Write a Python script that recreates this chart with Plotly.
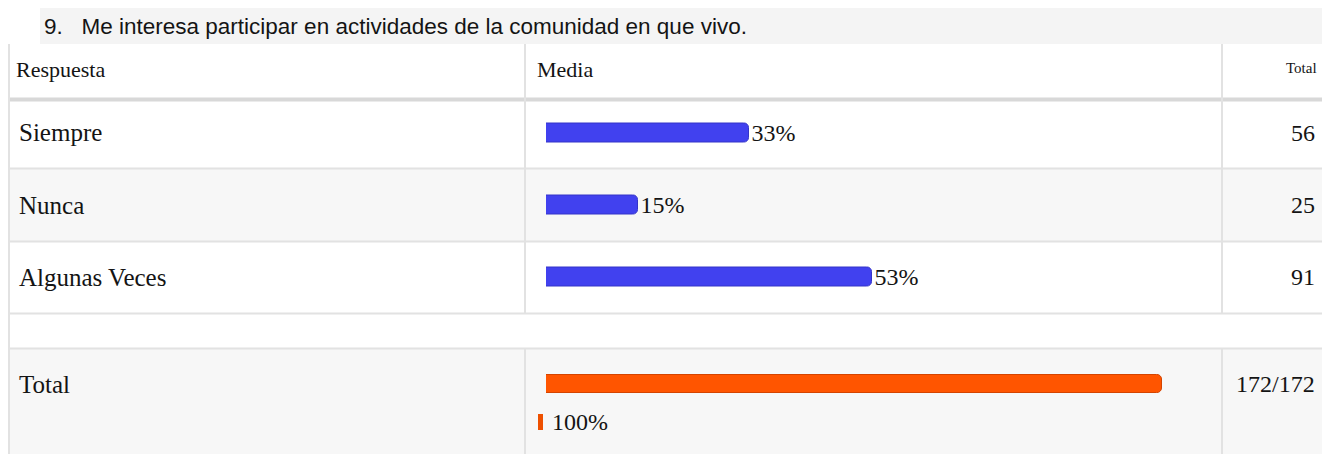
import plotly.graph_objects as go

# the page body keeps an 8px margin, so the figure is sized to fit inside it
OFF = 8
W, H = 1330 - OFF, 454 - OFF

title = "9.\u00a0\u00a0 Me interesa participar en actividades de la comunidad en que vivo."
headers = ["Respuesta", "Media", "Total"]
categories = ["Siempre", "Nunca", "Algunas Veces"]
pct_values = [33, 15, 53]
counts = [56, 25, 91]
total_label = "Total"
total_pct = [100]
total_text = "172/172"

SERIF = "Liberation Serif, Times New Roman, serif"
SANS = "Liberation Sans, Arial, sans-serif"
INK = "#141414"
GRID = "#e2e2e2"


def px(x):
    return (x - OFF) / W


def py(y):
    return 1 - (y - OFF) / H


fig = go.Figure()

# answer rows
fig.add_trace(go.Bar(
    x=pct_values, y=categories, orientation="h",
    marker=dict(color="#4141ef", line=dict(color="#3434c8", width=1), cornerradius=5),
    width=0.26,
    text=[f"{v}%" for v in pct_values], textposition="outside",
    textfont=dict(family=SERIF, size=24, color=INK),
    constraintext="none", cliponaxis=False,
    xaxis="x", yaxis="y", hoverinfo="skip",
))

# total row
fig.add_trace(go.Bar(
    x=total_pct, y=[total_label], orientation="h",
    marker=dict(color="#ff5500", line=dict(color="#d44400", width=1), cornerradius=5),
    width=0.5,
    xaxis="x", yaxis="y2", hoverinfo="skip",
))

shapes = []
# title backdrop
shapes.append(dict(type="rect", xref="paper", yref="paper", x0=px(40), x1=px(1330),
                   y0=py(44), y1=py(5), fillcolor="#f4f4f4", line_width=0, layer="below"))
# shaded rows
for top, bot in [(169, 242), (349, 454)]:
    shapes.append(dict(type="rect", xref="paper", yref="paper", x0=px(8), x1=px(1327),
                       y0=py(bot), y1=py(top), fillcolor="#f7f7f7", line_width=0, layer="below"))
# horizontal rules
shapes.append(dict(type="line", xref="paper", yref="paper", x0=px(8), x1=px(1327),
                   y0=py(99.5), y1=py(99.5), line=dict(color="#d8d8d8", width=4), layer="below"))
for y in [168.5, 241.5, 313.5, 348.5]:
    shapes.append(dict(type="line", xref="paper", yref="paper", x0=px(8), x1=px(1327),
                       y0=py(y), y1=py(y), line=dict(color=GRID, width=2), layer="below"))
# vertical rules
for x in [9, 1327]:
    shapes.append(dict(type="line", xref="paper", yref="paper", x0=px(x), x1=px(x),
                       y0=py(454), y1=py(44), line=dict(color=GRID, width=2), layer="below"))
for x in [525, 1222]:
    for top, bot in [(44, 314), (349, 454)]:
        shapes.append(dict(type="line", xref="paper", yref="paper", x0=px(x), x1=px(x),
                           y0=py(bot), y1=py(top), line=dict(color=GRID, width=2), layer="below"))
# small legend tick next to 100%
shapes.append(dict(type="rect", xref="paper", yref="paper", x0=px(538), x1=px(543),
                   y0=py(430), y1=py(414), fillcolor="#ee5000", line_width=0))

annotations = []
annotations.append(dict(text=title, x=px(42), y=py(26), xref="paper", yref="paper",
                        xanchor="left", yanchor="middle", showarrow=False,
                        font=dict(family=SANS, size=22.5, color=INK)))
annotations.append(dict(text=headers[0], x=px(14), y=py(70), xref="paper", yref="paper",
                        xanchor="left", yanchor="middle", showarrow=False,
                        font=dict(family=SERIF, size=22, color=INK)))
annotations.append(dict(text=headers[1], x=px(535), y=py(70), xref="paper", yref="paper",
                        xanchor="left", yanchor="middle", showarrow=False,
                        font=dict(family=SERIF, size=22, color=INK)))
annotations.append(dict(text=headers[2], x=px(1319), y=py(68), xref="paper", yref="paper",
                        xanchor="right", yanchor="middle", showarrow=False,
                        font=dict(family=SERIF, size=15, color=INK)))
for cat, n in zip(categories, counts):
    annotations.append(dict(text=cat, x=px(17), y=cat, xref="paper", yref="y",
                            xanchor="left", yanchor="middle", showarrow=False,
                            font=dict(family=SERIF, size=25, color=INK)))
    annotations.append(dict(text=str(n), x=px(1317), y=cat, xref="paper", yref="y",
                            xanchor="right", yanchor="middle", showarrow=False,
                            font=dict(family=SERIF, size=24, color=INK)))
annotations.append(dict(text=total_label, x=px(17), y=total_label, xref="paper", yref="y2",
                        xanchor="left", yanchor="middle", showarrow=False,
                        font=dict(family=SERIF, size=25, color=INK)))
annotations.append(dict(text=total_text, x=px(1317), y=total_label, xref="paper", yref="y2",
                        xanchor="right", yanchor="middle", showarrow=False,
                        font=dict(family=SERIF, size=24, color=INK)))
annotations.append(dict(text=f"{total_pct[0]}%", x=px(550), y=py(422), xref="paper", yref="paper",
                        xanchor="left", yanchor="middle", showarrow=False,
                        font=dict(family=SERIF, size=24, color=INK)))

fig.update_layout(
    width=W, height=H, autosize=False,
    margin=dict(l=0, r=0, t=0, b=0),
    paper_bgcolor="white", plot_bgcolor="rgba(0,0,0,0)",
    showlegend=False, bargap=0,
    xaxis=dict(domain=[px(546), px(1162)], range=[0, 100], visible=False, fixedrange=True),
    yaxis=dict(domain=[py(313.5), py(96.5)], range=[2.5, -0.5], type="category",
               categoryorder="array", categoryarray=categories, visible=False, fixedrange=True),
    yaxis2=dict(domain=[py(402), py(366)], range=[-0.5, 0.5], type="category",
                anchor="x", visible=False, fixedrange=True),
    shapes=shapes, annotations=annotations,
)

fig.write_html("out.html")
